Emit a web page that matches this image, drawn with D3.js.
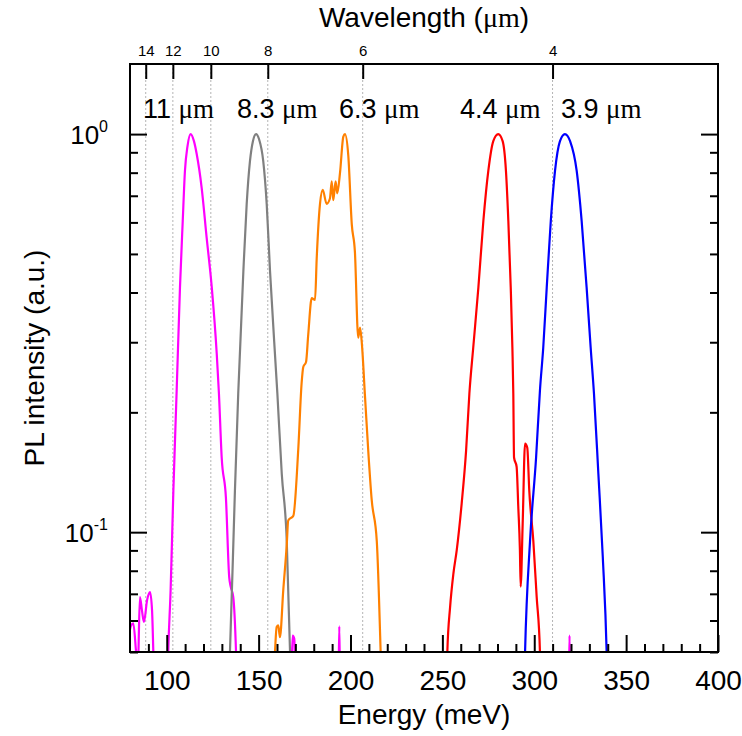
<!DOCTYPE html>
<html>
<head>
<meta charset="utf-8">
<script src="https://cdn.jsdelivr.net/npm/d3@7"></script>
<style>
  body { margin: 0; background: #fff; }
  svg text { font-family: "Liberation Sans", Arial, sans-serif; fill: #000; }
</style>
</head>
<body>
<div id="chart-container"></div>
<script>
// spectra: [energy (meV), normalized PL intensity]
const pl11um = [[80, 0.057], [80.4, 0.058], [81.8, 0.059], [83.0, 0.052], [83.6, 0.047], [84.0, 0.04], [84.6, 0.05],
  [85.4, 0.0687], [86.5, 0.0636], [87.6, 0.0595], [89.3, 0.0675], [90.9, 0.0707], [92.0, 0.0636], [92.7, 0.05],
  [93.3, 0.04], [97, 0.03], [100.3, 0.04], [100.8, 0.05], [102.1, 0.0714], [103.6, 0.127], [105.4, 0.227],
  [107.2, 0.412], [108.7, 0.605], [109.9, 0.808], [111.3, 0.933], [113.0, 1.0], [114.8, 0.96], [116.3, 0.891],
  [119.0, 0.733], [121.7, 0.55], [124.5, 0.412], [127.2, 0.281], [128.4, 0.223], [129.9, 0.154], [132.2, 0.122],
  [134.0, 0.077], [134.8, 0.073], [136.2, 0.0687], [137.7, 0.05], [138.3, 0.04], [150, 0.03], [167.6, 0.04],
  [168.5, 0.055], [169.4, 0.054], [170.2, 0.04], [180, 0.03], [193.4, 0.04], [193.9, 0.058], [194.4, 0.04],
  [250, 0.03], [318.8, 0.04], [319.2, 0.055], [319.6, 0.04], [400, 0.03]];

const pl83um = [[133.5, 0.04], [134.4, 0.05], [137.1, 0.127], [138.9, 0.223], [141.7, 0.453], [143.5, 0.667],
  [145.3, 0.856], [146.9, 0.96], [148.6, 1.0], [150.2, 0.972], [152.5, 0.856], [154.4, 0.667], [156.2, 0.453],
  [160.2, 0.223], [162.6, 0.14], [165.3, 0.0953], [167.1, 0.05], [167.6, 0.04]];

const pl63um = [[157.8, 0.04], [158.9, 0.05], [159.8, 0.0578], [160.7, 0.0583], [161.6, 0.0545], [163.4, 0.0714],
  [165.3, 0.093], [166.1, 0.107], [168.9, 0.11], [171.6, 0.1625], [173.4, 0.237], [174.3, 0.26], [175.8, 0.2675],
  [177.0, 0.3135], [178.9, 0.387], [180.7, 0.383], [181.6, 0.486], [183.4, 0.668], [184.9, 0.724], [187.0, 0.668],
  [188.8, 0.689], [189.8, 0.761], [190.6, 0.682], [191.9, 0.761], [192.8, 0.71], [194.3, 0.80], [196.1, 0.986],
  [197.0, 1.0], [198.8, 0.883], [200.7, 0.593], [202.4, 0.506], [204.2, 0.308], [205.2, 0.3265], [206.1, 0.301],
  [207.9, 0.219], [209.7, 0.159], [211.5, 0.121], [214.3, 0.095], [216.4, 0.05], [217.0, 0.04]];

const pl44um = [[252.2, 0.04], [252.7, 0.05], [254.2, 0.0648], [256.0, 0.0787], [257.8, 0.09], [260.5, 0.118],
  [262.9, 0.16], [264.7, 0.223], [266.8, 0.291], [269.6, 0.412], [272.3, 0.605], [275.0, 0.808], [277.7, 0.96],
  [280.4, 1.0], [282.8, 0.96], [284.6, 0.808], [285.9, 0.605], [287.2, 0.412], [288.1, 0.291], [288.6, 0.223],
  [289.0, 0.154], [290.4, 0.146], [291.3, 0.116], [292.2, 0.09], [292.6, 0.073], [293.7, 0.105], [295.0, 0.167],
  [296.2, 0.163], [297.3, 0.127], [299.5, 0.095], [301.3, 0.069], [303.1, 0.05], [303.6, 0.04]];

const pl39um = [[294.5, 0.04], [295.0, 0.05], [297.7, 0.095], [301.0, 0.154], [303.1, 0.227], [304.9, 0.291],
  [306.8, 0.412], [309.0, 0.605], [311.3, 0.808], [314.0, 0.96], [316.7, 1.0], [319.5, 0.96], [323.1, 0.808],
  [325.8, 0.605], [328.5, 0.412], [330.7, 0.291], [332.5, 0.223], [334.9, 0.14], [337.3, 0.0866], [339.4, 0.05],
  [339.9, 0.04]];

const seriesData = [pl11um, pl83um, pl63um, pl44um, pl39um];
const seriesColors = ["#ff00ff", "#808080", "#ff8000", "#ff0000", "#0000ff"];

const peakLabels = ["11 ", "8.3 ", "6.3 ", "4.4 ", "3.9 "];
const peakLabelE = [87.1, 138.2, 193.7, 259.6, 314.6];   // left edge of each label, in meV

const energyMajor = [100, 150, 200, 250, 300, 350, 400];
const energyMinor = d3.range(90, 400, 10).filter(d => d % 50 !== 0);
const intensityMajor = [0.1, 1];
const intensityMinor = [0.05, 0.06, 0.07, 0.08, 0.09, 0.2, 0.3, 0.4, 0.5, 0.6, 0.7, 0.8, 0.9];
const wavelengthTicks = [14, 12, 10, 8, 6, 4];   // µm
const hc = 1239.84;   // meV·µm

const margin = { top: 64, right: 24, bottom: 84, left: 130 };
const width = 742 - margin.left - margin.right;
const height = 736 - margin.top - margin.bottom;

const svg = d3.select("#chart-container")
    .append("svg")
    .attr("width", 742)
    .attr("height", 736);

const g = svg.append("g")
    .attr("transform", `translate(${margin.left}, ${margin.top})`);

const x = d3.scaleLinear().domain([80, 400]).range([0, width]);
const y = d3.scaleLog().domain([0.05, 1.5]).range([height, 0]);

g.append("clipPath").attr("id", "plot-clip")
    .append("rect").attr("width", width).attr("height", height);

// dotted lines at the wavelength ticks
g.selectAll(".wl-grid")
    .data(wavelengthTicks)
    .enter().append("line")
    .attr("class", "wl-grid")
    .attr("x1", d => x(hc / d)).attr("x2", d => x(hc / d))
    .attr("y1", 0).attr("y2", height)
    .attr("stroke", "#b4b4b4")
    .attr("stroke-width", 1)
    .attr("stroke-dasharray", "2,2");

const line = d3.line()
    .x(d => x(d[0]))
    .y(d => y(d[1]))
    .curve(d3.curveMonotoneX);

g.append("g").attr("clip-path", "url(#plot-clip)")
    .selectAll(".spectrum")
    .data(seriesData)
    .enter().append("path")
    .attr("class", "spectrum")
    .attr("fill", "none")
    .attr("stroke", (d, i) => seriesColors[i])
    .attr("stroke-width", 2.2)
    .attr("stroke-linejoin", "round")
    .attr("d", line);

function styleAxis(sel) {
    sel.select(".domain").remove();
    sel.selectAll(".tick line").attr("stroke", "#000").attr("stroke-width", 2);
}

// bottom energy axis
g.append("g")
    .attr("transform", `translate(0, ${height})`)
    .call(d3.axisBottom(x).tickValues(energyMinor).tickSize(-8).tickFormat(""))
    .call(styleAxis);
g.append("g")
    .attr("transform", `translate(0, ${height})`)
    .call(d3.axisBottom(x).tickValues(energyMajor).tickSize(-17).tickPadding(18).tickFormat(d3.format("d")))
    .call(styleAxis)
    .selectAll("text").attr("font-size", 28);

// top wavelength axis
g.append("g")
    .call(d3.axisTop(x).tickValues(wavelengthTicks.map(d => hc / d)).tickSize(-15).tickPadding(8)
        .tickFormat((d, i) => wavelengthTicks[i]))
    .call(styleAxis)
    .selectAll("text").attr("font-size", 15);

// left and right intensity axes
g.append("g")
    .call(d3.axisLeft(y).tickValues(intensityMinor).tickSize(-8).tickFormat(""))
    .call(styleAxis);
const yMajor = g.append("g")
    .call(d3.axisLeft(y).tickValues(intensityMajor).tickSize(-17).tickFormat(""))
    .call(styleAxis);
g.append("g")
    .attr("transform", `translate(${width}, 0)`)
    .call(d3.axisRight(y).tickValues(intensityMinor).tickSize(-8).tickFormat(""))
    .call(styleAxis);
g.append("g")
    .attr("transform", `translate(${width}, 0)`)
    .call(d3.axisRight(y).tickValues(intensityMajor).tickSize(-17).tickFormat(""))
    .call(styleAxis);

yMajor.selectAll(".tick").each(function (d) {
    const t = d3.select(this).append("text")
        .attr("x", -22).attr("y", 9)
        .attr("text-anchor", "end")
        .attr("font-size", 26);
    t.append("tspan").text("10");
    t.append("tspan").attr("dy", -12).attr("font-size", 16).text(Math.round(Math.log10(d)));
});

// frame
g.append("rect")
    .attr("width", width).attr("height", height)
    .attr("fill", "none").attr("stroke", "#000").attr("stroke-width", 2);

// peak annotations
const notes = g.selectAll(".peak-label")
    .data(peakLabels)
    .enter().append("text")
    .attr("class", "peak-label")
    .attr("x", (d, i) => x(peakLabelE[i]))
    .attr("y", y(1.1))
    .attr("font-size", 27);
notes.append("tspan").text(d => d);
notes.append("tspan").attr("font-family", "'Liberation Serif', serif").text("\u03bcm");

// axis titles
svg.append("text")
    .attr("x", margin.left + width / 2)
    .attr("y", 724)
    .attr("text-anchor", "middle")
    .attr("font-size", 28)
    .text("Energy (meV)");

const wlTitle = svg.append("text")
    .attr("x", margin.left + width / 2)
    .attr("y", 27)
    .attr("text-anchor", "middle")
    .attr("font-size", 28);
wlTitle.append("tspan").text("Wavelength (");
wlTitle.append("tspan").attr("font-family", "'Liberation Serif', serif").text("\u03bcm");
wlTitle.append("tspan").text(")");

svg.append("text")
    .attr("transform", `translate(44, ${margin.top + height / 2}) rotate(-90)`)
    .attr("text-anchor", "middle")
    .attr("font-size", 28)
    .text("PL intensity (a.u.)");
</script>
</body>
</html>
